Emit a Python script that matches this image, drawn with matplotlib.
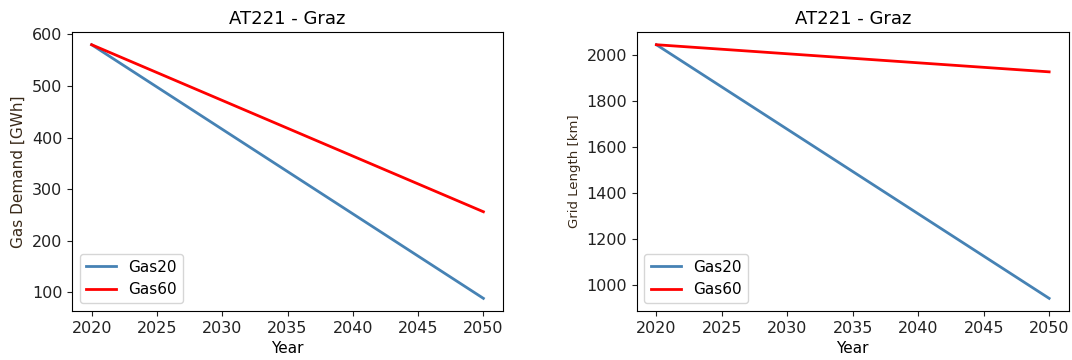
import matplotlib
matplotlib.use("Agg")
import matplotlib.pyplot as plt

years = [2020, 2050]
demand_gas20 = [580, 88]
demand_gas60 = [580, 256]
grid_gas20 = [2043, 940]
grid_gas60 = [2043, 1925]
title = "AT221 - Graz"

fig = plt.figure(figsize=(10.72, 3.6), dpi=100)
ax1 = fig.add_axes([0.0672, 0.136, 0.402, 0.775])
ax2 = fig.add_axes([0.594, 0.136, 0.403, 0.775])

for ax, s20, s60, ylab, yfs in [
    (ax1, demand_gas20, demand_gas60, "Gas Demand [GWh]", 11),
    (ax2, grid_gas20, grid_gas60, "Grid Length [km]", 9.5),
]:
    ax.plot(years, s20, color="steelblue", lw=2, label="Gas20")
    ax.plot(years, s60, color="red", lw=2, label="Gas60")
    ax.set_title(title, fontsize=13)
    ax.set_xlabel("Year", fontsize=11)
    ax.set_ylabel(ylab, fontsize=yfs, color="#3a2a1a")
    ax.set_xticks(range(2020, 2051, 5))
    ax.tick_params(labelsize=11.5, colors="#222222")
    ax.legend(loc="lower left", fontsize=11)

fig.savefig("out.png", dpi=100)
